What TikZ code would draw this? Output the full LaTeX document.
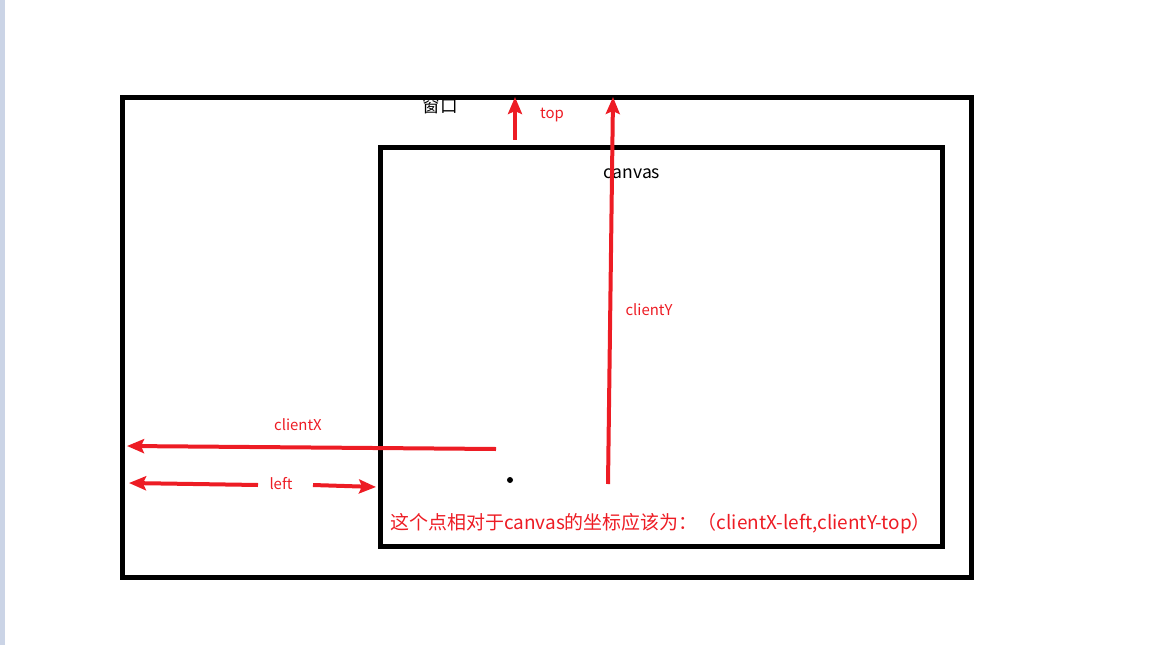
\documentclass[tikz,border=0pt]{standalone}
\usepackage{fontspec}
\usepackage{tikz}
\usetikzlibrary{arrows.meta, positioning}
\newfontfamily\cjk{Noto Sans CJK SC}
\definecolor{mRed}{HTML}{ED1C24}
\definecolor{mStrip}{HTML}{CBD4E6}

\begin{document}
\begin{tikzpicture}[x=0.02cm, y=-0.02cm,
    box/.style={draw, line width=0.1cm},
    redarrow/.style={mRed, line width=0.08cm, -{Stealth[length=0.34cm, width=0.28cm, inset=0.06cm]}},
    redlabel/.style={mRed, font=\cjk\fontsize{8.5pt}{10pt}\selectfont, inner sep=0pt},
    blacklabel/.style={black, font=\cjk\fontsize{10pt}{12pt}\selectfont, inner sep=0pt}]
    \useasboundingbox (0,0) rectangle (1155,645);
    \fill[mStrip] (0,0) rectangle (5,645);
    % window and canvas
    \draw[box] (122,98) rectangle (971,577);
    \draw[box] (380,148) rectangle (942,546);
    \node[blacklabel] (win) at (440,106) {窗口};
    \node[blacklabel] (cv) at (632,174) {canvas};
    % the point
    \fill (510,480) circle (0.06cm);
    % top
    \coordinate (topA) at (515,140);
    \coordinate (topB) at (515,97);
    \draw[redarrow] (topA) -- (topB);
    \node[redlabel] (toplbl) at (552,115) {top};
    % clientY
    \coordinate (cyA) at (608,484);
    \coordinate (cyB) at (613,97);
    \draw[redarrow] (cyA) -- (cyB);
    \node[redlabel] (cylbl) at (649,310) {clientY};
    % clientX
    \coordinate (cxA) at (496,449);
    \coordinate (cxB) at (127,446);
    \draw[redarrow] (cxA) -- (cxB);
    \node[redlabel] (cxlbl) at (298,425) {clientX};
    % left
    \node[redlabel] (leftlbl) at (281,484) {left};
    \coordinate (lA) at (258,485);
    \coordinate (lB) at (129,483);
    \coordinate (rA) at (313,485);
    \coordinate (rB) at (376,487);
    \draw[redarrow] (lA) -- (lB);
    \draw[redarrow] (rA) -- (rB);
    % result
    \node[redlabel, anchor=west, font=\cjk\fontsize{10.8pt}{12pt}\selectfont] (res) at (390,524)
      {这个点相对于canvas的坐标应该为：（clientX-left,clientY-top）};
\end{tikzpicture}
\end{document}
